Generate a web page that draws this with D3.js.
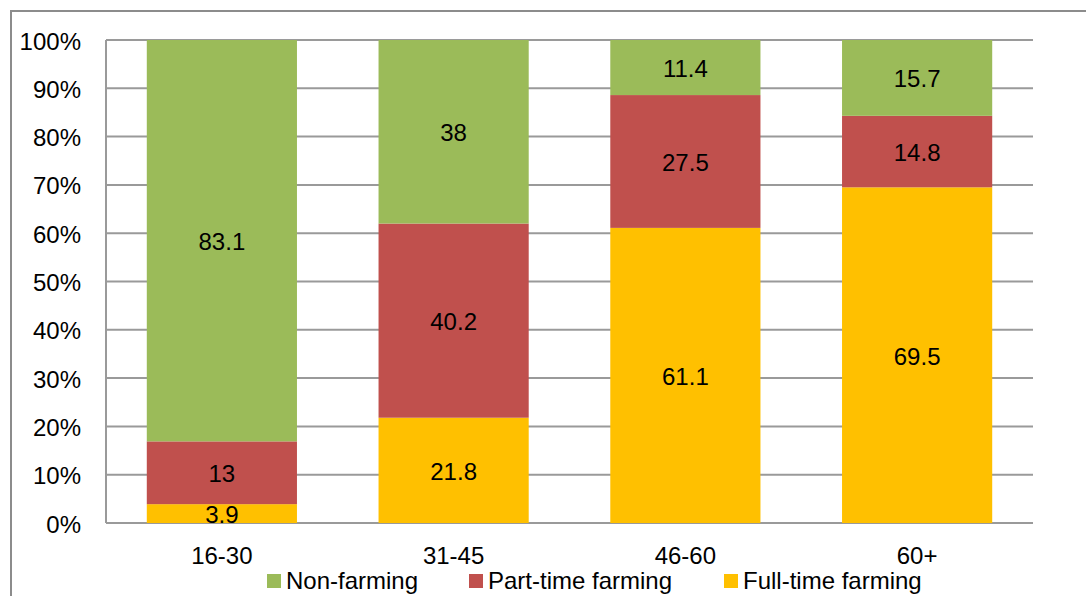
<!DOCTYPE html>
<html>
<head>
<meta charset="utf-8">
<script src="https://cdn.jsdelivr.net/npm/d3@7"></script>
<style>
  html, body { margin: 0; padding: 0; background: #fff; }
  svg { display: block; }
  text { font-family: "Liberation Sans", Arial, sans-serif; fill: #000; }
</style>
</head>
<body>
<svg id="chart" width="1086" height="596"></svg>
<script>
// Age groups and the share of each occupation group (percent)
const ageGroups = ["16-30", "31-45", "46-60", "60+"];
const fullTime = [3.9, 21.8, 61.1, 69.5];
const partTime = [13, 40.2, 27.5, 14.8];
const nonFarming = [83.1, 38, 11.4, 15.7];
const yTicks = [0, 10, 20, 30, 40, 50, 60, 70, 80, 90, 100];

const seriesNames = ["Full-time farming", "Part-time farming", "Non-farming"];
const seriesValues = [fullTime, partTime, nonFarming];
const seriesColors = ["#FFC000", "#C0504D", "#9BBB59"];
const legendOrder = ["Non-farming", "Part-time farming", "Full-time farming"];

const svg = d3.select("#chart");
const W = 1086, H = 596;
const plot = { left: 106, right: 1033, top: 40, bottom: 523 };
const fontSize = 24;

// Outer chart frame
svg.append("rect")
  .attr("x", 11).attr("y", 11)
  .attr("width", W + 20).attr("height", H + 20)
  .attr("fill", "none").attr("stroke", "#8c8c8c").attr("stroke-width", 2);

const x = d3.scaleBand().domain(ageGroups)
  .range([plot.left, plot.right]).paddingInner(0.352).paddingOuter(0.176);
const y = d3.scaleLinear().domain([0, 100]).range([plot.bottom, plot.top]);

// Horizontal gridlines
svg.append("g").selectAll("line").data(yTicks).join("line")
  .attr("x1", plot.left).attr("x2", plot.right)
  .attr("y1", d => y(d)).attr("y2", d => y(d))
  .attr("stroke", "#9a9a9a").attr("stroke-width", 2);

// Y axis line
svg.append("line")
  .attr("x1", plot.left).attr("x2", plot.left)
  .attr("y1", plot.top).attr("y2", plot.bottom)
  .attr("stroke", "#9a9a9a").attr("stroke-width", 2);

// Stacked data
const rows = ageGroups.map((g, i) => {
  const r = { group: g };
  seriesNames.forEach((s, j) => r[s] = seriesValues[j][i]);
  return r;
});
const stacked = d3.stack().keys(seriesNames)(rows);

const layers = svg.append("g").selectAll("g").data(stacked).join("g")
  .attr("fill", (d, i) => seriesColors[i]);

layers.selectAll("rect").data(d => d).join("rect")
  .attr("x", d => x(d.data.group))
  .attr("width", x.bandwidth())
  .attr("y", d => y(d[1]))
  .attr("height", d => y(d[0]) - y(d[1]));

// Segment value labels
layers.selectAll("text").data((d) => d.map(v => ({ v, key: d.key }))).join("text")
  .attr("x", d => x(d.v.data.group) + x.bandwidth() / 2)
  .attr("y", d => (y(d.v[0]) + y(d.v[1])) / 2 + 1)
  .attr("text-anchor", "middle")
  .attr("dominant-baseline", "central")
  .attr("font-size", fontSize)
  .style("fill", "#000")
  .text(d => String(d.v.data[d.key]));

// Y tick labels
svg.append("g").selectAll("text").data(yTicks).join("text")
  .attr("x", 81).attr("y", d => y(d) + 1)
  .attr("text-anchor", "end")
  .attr("dominant-baseline", "central")
  .attr("font-size", fontSize)
  .text(d => d + "%");

// X category labels
svg.append("g").selectAll("text").data(ageGroups).join("text")
  .attr("x", d => x(d) + x.bandwidth() / 2)
  .attr("y", 564)
  .attr("text-anchor", "middle")
  .attr("font-size", fontSize)
  .text(d => d);

// Legend
const legendX = [267, 469, 724];
const legend = svg.append("g").selectAll("g").data(legendOrder).join("g")
  .attr("transform", (d, i) => `translate(${legendX[i]},0)`);
legend.append("rect")
  .attr("x", 0).attr("y", 574).attr("width", 14).attr("height", 14)
  .attr("fill", d => seriesColors[seriesNames.indexOf(d)]);
legend.append("text")
  .attr("x", 19).attr("y", 589)
  .attr("font-size", fontSize)
  .text(d => d);
</script>
</body>
</html>
